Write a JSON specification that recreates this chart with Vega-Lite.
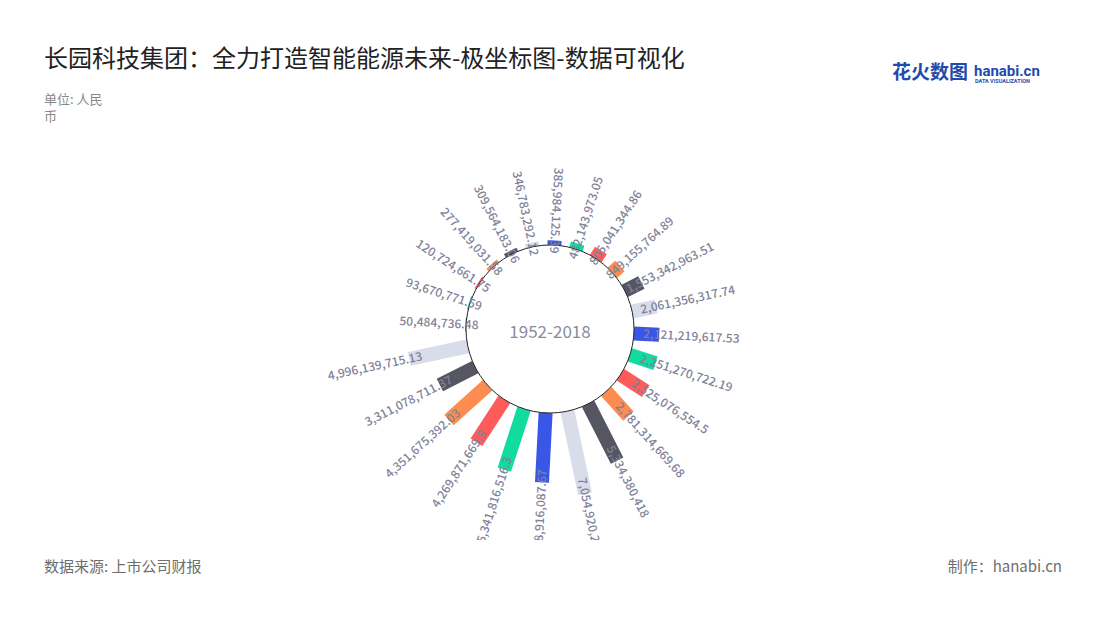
{
  "$schema": "https://vega.github.io/schema/vega-lite/v6.json",
  "autosize": "none",
  "width": 1100,
  "height": 422,
  "padding": {"left": 0, "right": 0, "top": 118, "bottom": 80},
  "background": "white",
  "config": {"view": {"stroke": null}, "font": "Noto Sans CJK SC"},
  "title": {
    "text": "长园科技集团：全力打造智能能源未来-极坐标图-数据可视化",
    "subtitle": ["单位: 人民", "币"],
    "anchor": "start",
    "frame": "group",
    "dx": 44,
    "fontSize": 24,
    "fontWeight": "normal",
    "color": "#222222",
    "subtitleFontSize": 13,
    "subtitleColor": "#888888",
    "subtitleLineHeight": 17,
    "subtitlePadding": 22,
    "offset": -60
  },
  "data": {
    "values": [
      {"n": 1, "value": 385984125.39},
      {"n": 2, "value": 482143973.05},
      {"n": 3, "value": 805041344.86},
      {"n": 4, "value": 849155764.89},
      {"n": 5, "value": 1553342963.51},
      {"n": 6, "value": 2061356317.74},
      {"n": 7, "value": 2121219617.53},
      {"n": 8, "value": 2251270722.19},
      {"n": 9, "value": 2525076554.5},
      {"n": 10, "value": 2781314669.68},
      {"n": 11, "value": 5334380418},
      {"n": 12, "value": 7054920221.38},
      {"n": 13, "value": 5818916087.67},
      {"n": 14, "value": 5341816516.3},
      {"n": 15, "value": 4269871669.8},
      {"n": 16, "value": 4351675392.03},
      {"n": 17, "value": 3311078711.37},
      {"n": 18, "value": 4996139715.13},
      {"n": 19, "value": 50484736.48},
      {"n": 20, "value": 93670771.59},
      {"n": 21, "value": 120724661.75},
      {"n": 22, "value": 277419031.58},
      {"n": 23, "value": 309564183.06},
      {"n": 24, "value": 346783292.12}
    ]
  },
  "layer": [
    {
      "mark": {"type": "arc", "filled": false, "strokeWidth": 14, "strokeJoin": "bevel", "strokeCap": "butt"},
      "encoding": {
        "theta": {"field": "n", "type": "quantitative", "stack": null, "scale": {"domain": [1, 25], "range": [0.05236, 6.33555]}},
        "theta2": {"field": "n"},
        "radius": {"field": "value", "type": "quantitative", "scale": {"type": "linear", "domain": [0, 10000000000], "range": [84, 203.5], "zero": false, "nice": false}},
        "radius2": {"datum": 0},
        "color": {"field": "n", "type": "ordinal", "legend": null, "scale": {"range": ["#3a56e6", "#10dc9e", "#fd5c5a", "#fd8c50", "#565662", "#d8dde9"]}}
      }
    },
    {
      "data": {"values": [{"t": 1}]},
      "mark": {"type": "arc", "filled": false, "stroke": "#222222", "strokeWidth": 1, "theta": 0, "theta2": 6.2832, "radius": 84, "radius2": 0},
      "encoding": {}
    },
    {
      "transform": [{"filter": "datum.n >= 2 && datum.n <= 12"}],
      "mark": {"type": "text", "align": "left", "baseline": "middle", "radiusOffset": -16, "fontSize": 12, "fontWeight": 500, "color": "#7f8399", "clip": true},
      "encoding": {
        "theta": {"field": "n", "type": "quantitative", "stack": null},
        "radius": {"field": "value", "type": "quantitative"},
        "angle": {"field": "n", "type": "quantitative", "scale": {"domain": [1, 25], "range": [-87, 273]}},
        "text": {"field": "value", "type": "quantitative", "format": ",.2~f"}
      }
    },
    {
      "transform": [{"filter": "datum.n == 1 || datum.n >= 13"}],
      "mark": {"type": "text", "align": "right", "baseline": "middle", "radiusOffset": -13, "fontSize": 12, "fontWeight": 500, "color": "#7f8399", "clip": true},
      "encoding": {
        "theta": {"field": "n", "type": "quantitative", "stack": null},
        "radius": {"field": "value", "type": "quantitative"},
        "angle": {"field": "n", "type": "quantitative", "scale": {"domain": [1, 25], "range": [93, 453]}},
        "text": {"field": "value", "type": "quantitative", "format": ",.2~f"}
      }
    },
    {
      "data": {"values": [{"t": "1952-2018"}]},
      "mark": {"type": "text", "align": "center", "baseline": "middle", "fontSize": 17, "color": "#8a8c9c", "dy": 4},
      "encoding": {"text": {"field": "t"}, "radius": {"value": 0}, "theta": {"value": 0}}
    },
    {
      "data": {"values": [{"t": "数据来源: 上市公司财报"}]},
      "mark": {"type": "text", "align": "left", "baseline": "middle", "x": 44, "y": 449, "fontSize": 15, "color": "#6e6e6e"},
      "encoding": {"text": {"field": "t"}}
    },
    {
      "data": {"values": [{"t": "制作：hanabi.cn"}]},
      "mark": {"type": "text", "align": "right", "baseline": "middle", "x": 1062, "y": 449, "fontSize": 15, "color": "#6e6e6e"},
      "encoding": {"text": {"field": "t"}}
    },
    {
      "data": {"values": [{"t": "花火数图"}]},
      "mark": {"type": "text", "align": "left", "baseline": "middle", "x": 892, "y": -45, "fontSize": 19, "fontWeight": "bold", "color": "#1f4bac"},
      "encoding": {"text": {"field": "t"}}
    },
    {
      "data": {"values": [{"t": "hanabi.cn"}]},
      "mark": {"type": "text", "align": "left", "baseline": "middle", "x": 974, "y": -47, "fontSize": 15, "fontWeight": "bold", "color": "#1f4bac", "font": "Roboto"},
      "encoding": {"text": {"field": "t"}}
    },
    {
      "data": {"values": [{"t": "DATA VISUALIZATION"}]},
      "mark": {"type": "text", "align": "left", "baseline": "middle", "x": 975, "y": -37, "fontSize": 5.5, "fontWeight": "bold", "color": "#1f4bac", "font": "Roboto"},
      "encoding": {"text": {"field": "t"}}
    }
  ],
  "resolve": {"scale": {"angle": "independent"}}
}
